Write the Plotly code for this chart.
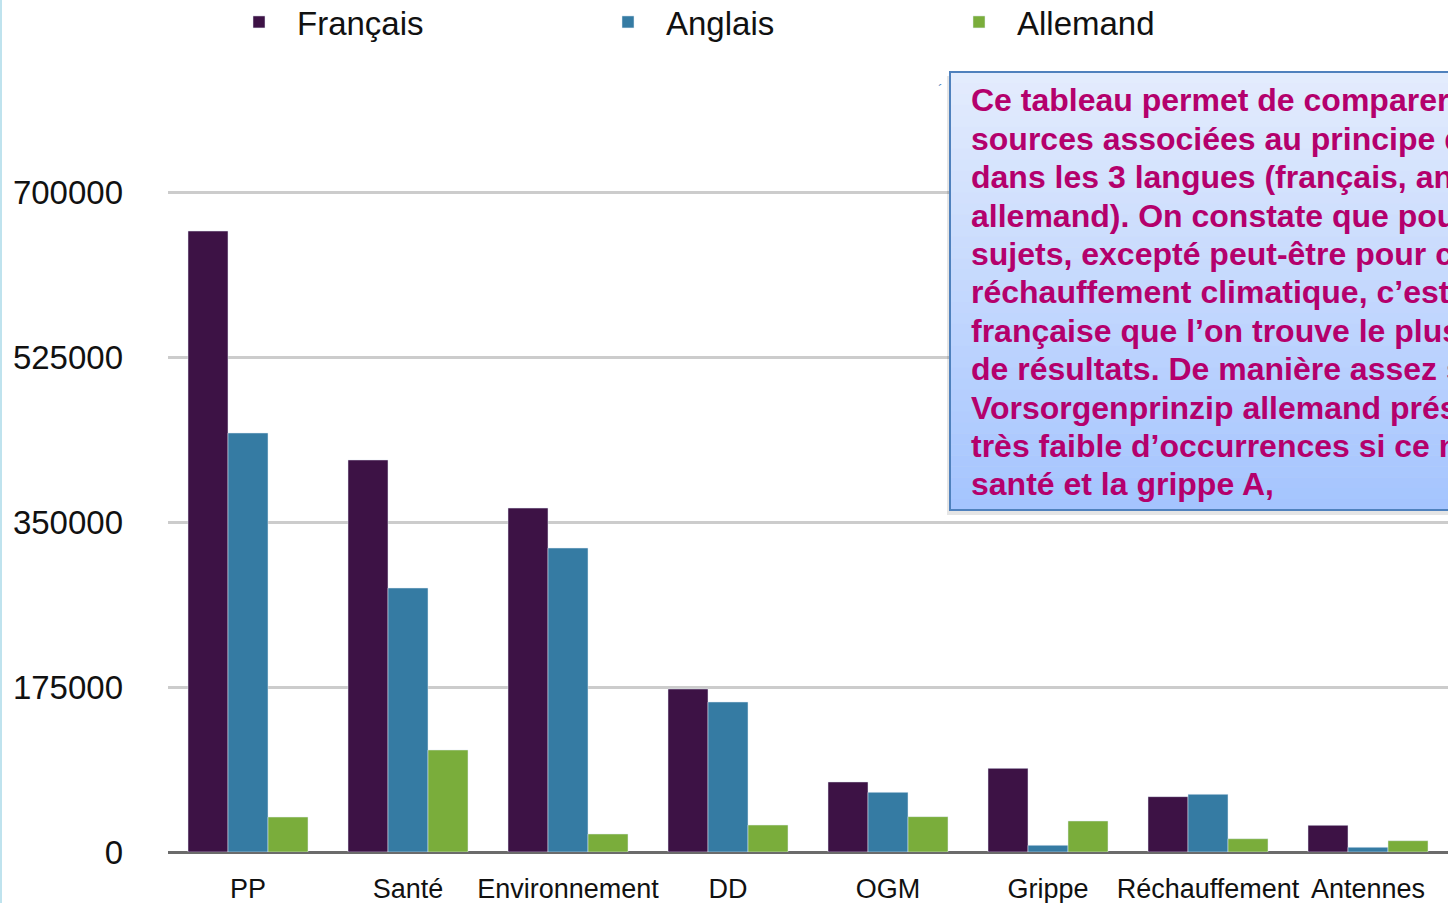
import plotly.graph_objects as go

categories = ["PP", "Santé", "Environnement", "DD", "OGM", "Grippe", "Réchauffement", "Antennes"]
francais = [658600, 415800, 364800, 172900, 74300, 88700, 58700, 28300]
anglais = [444400, 280000, 322400, 159100, 63300, 7100, 61200, 5000]
allemand = [37100, 108200, 19100, 28600, 37500, 32900, 14100, 12000]
y_ticks = [0, 175000, 350000, 525000, 700000]

note_lines = [
    "Ce tableau permet de comparer",
    "sources associées au principe de",
    "dans les 3 langues (français, anglais",
    "allemand). On constate que pour",
    "sujets, excepté peut-être pour celui",
    "réchauffement climatique, c’est",
    "française que l’on trouve le plus",
    "de résultats. De manière assez surprenante",
    "Vorsorgenprinzip allemand présente",
    "très faible d’occurrences si ce n’est",
    "santé et la grippe A,",
]

W, H = 1448, 903
L, R, T, B = 168, 0, 72, 51
PW, PH = W - L - R, H - T - B


def px_x(x):
    return (x - L) / PW


def px_y(y):
    return (H - B - y) / PH


FONT = "Liberation Sans, Arial, Helvetica, sans-serif"

fig = go.Figure()
fig.add_trace(go.Bar(x=categories, y=francais, name="Français", marker_color="#3d1245", legend="legend"))
fig.add_trace(go.Bar(x=categories, y=anglais, name="Anglais", marker_color="#357ba3", legend="legend2"))
fig.add_trace(go.Bar(x=categories, y=allemand, name="Allemand", marker_color="#7aad3b", legend="legend3"))

shapes = []
# slide left border
shapes.append(dict(type="line", xref="paper", yref="paper", x0=px_x(1), x1=px_x(1), y0=px_y(0), y1=px_y(H),
                   line=dict(color="#bfe3ee", width=2), layer="above"))
# box shadow
shapes.append(dict(type="rect", xref="paper", yref="paper", x0=px_x(947), x1=px_x(1460), y0=px_y(515), y1=px_y(76),
                   fillcolor="rgba(0,0,0,0.10)", line=dict(width=0), layer="above"))
# gradient box
top_c = (228, 236, 253)
bot_c = (164, 196, 254)
y_top, y_bot = 72, 510
n = 40
for i in range(n):
    t = (i + 0.5) / n
    c = tuple(int(round(top_c[k] + (bot_c[k] - top_c[k]) * t)) for k in range(3))
    ya = y_top + (y_bot - y_top) * i / n
    yb = y_top + (y_bot - y_top) * (i + 1) / n
    shapes.append(dict(type="rect", xref="paper", yref="paper", x0=px_x(950), x1=px_x(1460),
                       y0=px_y(yb + 0.5), y1=px_y(ya), fillcolor="rgb(%d,%d,%d)" % c,
                       line=dict(width=0), layer="above"))
shapes.append(dict(type="rect", xref="paper", yref="paper", x0=px_x(950), x1=px_x(1460), y0=px_y(y_bot), y1=px_y(y_top),
                   fillcolor="rgba(0,0,0,0)", line=dict(color="#4f81bd", width=2), layer="above"))

annotations = []
line_y = [100, 139, 177, 216, 254, 292, 331, 369, 408, 446, 484]
for txt, yc in zip(note_lines, line_y):
    annotations.append(dict(text=txt, xref="paper", yref="paper", x=px_x(969), y=px_y(yc),
                            xanchor="left", yanchor="middle", align="left", showarrow=False,
                            font=dict(family=FONT, size=32, color="#b4006c", weight="bold")))
annotations.append(dict(text="´", xref="paper", yref="paper", x=px_x(940), y=px_y(90),
                        xanchor="center", yanchor="middle", showarrow=False,
                        font=dict(family=FONT, size=14, color="#4f81bd")))

legend_common = dict(orientation="h", yanchor="middle", xanchor="left", yref="container", xref="container",
                     y=1 - 22 / H,
                     font=dict(family=FONT, size=33, color="#111111"), bgcolor="rgba(0,0,0,0)",
                     itemwidth=66)

fig.update_layout(
    width=W, height=H,
    margin=dict(l=L, r=R, t=T, b=B, pad=0, autoexpand=False),
    paper_bgcolor="white", plot_bgcolor="white",
    barmode="group", bargap=0.25, bargroupgap=0,
    showlegend=True,
    font=dict(family=FONT, color="#111111"),
    legend=dict(legend_common, x=221 / W),
    legend2=dict(legend_common, x=590 / W),
    legend3=dict(legend_common, x=941 / W),
    xaxis=dict(range=[-0.5, 7.5], showgrid=False, showline=False, ticks="", tickangle=0,
               tickfont=dict(family=FONT, size=27, color="#111111"), ticklabelstandoff=18),
    yaxis=dict(range=[0, 780 * 175000 / 165], tickvals=y_ticks, ticktext=[str(v) for v in y_ticks],
               showgrid=True, gridcolor="#cccccc", gridwidth=3, zeroline=True,
               zerolinecolor="#6b6b6b", zerolinewidth=3, showline=False, ticks="",
               tickfont=dict(family=FONT, size=33, color="#111111"), ticklabelstandoff=44),
    shapes=shapes,
    annotations=annotations,
)

fig.write_html("out.html", config={"displayModeBar": False},
               post_script="document.body.style.margin='0';document.body.style.overflow='hidden';")
